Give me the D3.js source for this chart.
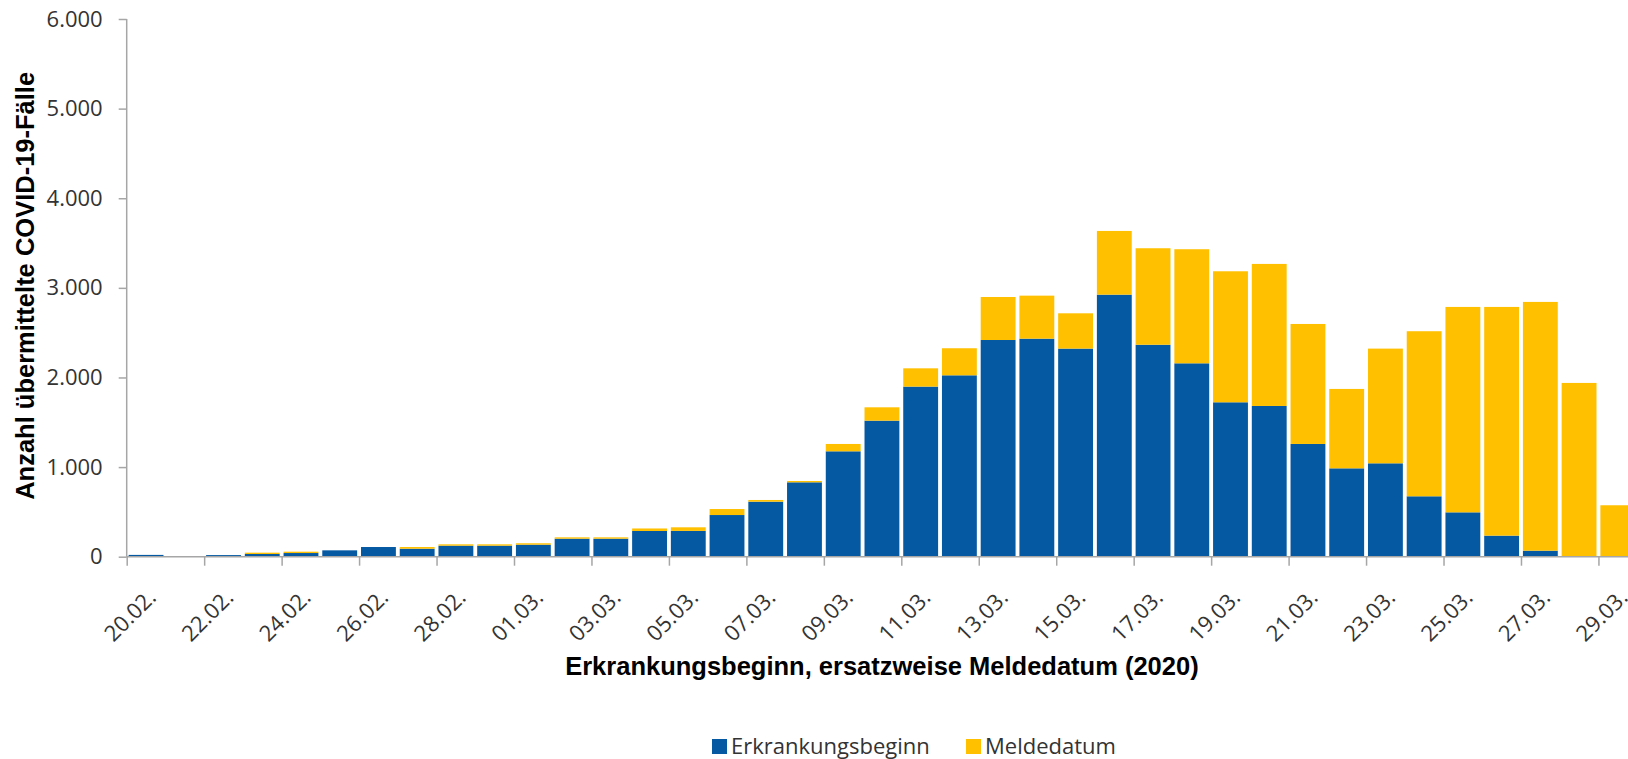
<!DOCTYPE html>
<html>
<head>
<meta charset="utf-8">
<script src="https://cdn.jsdelivr.net/npm/d3@7"></script>
<style>
  body { margin: 0; background: #fff; }
  svg { display: block; }
</style>
</head>
<body>
<div id="chart"></div>
<script>
// Meldedatum / Erkrankungsbeginn, 20.02. bis 29.03.2020
const dates = ["20.02.", "21.02.", "22.02.", "23.02.", "24.02.", "25.02.", "26.02.", "27.02.", "28.02.", "29.02.",
  "01.03.", "02.03.", "03.03.", "04.03.", "05.03.", "06.03.", "07.03.", "08.03.", "09.03.", "10.03.",
  "11.03.", "12.03.", "13.03.", "14.03.", "15.03.", "16.03.", "17.03.", "18.03.", "19.03.", "20.03.",
  "21.03.", "22.03.", "23.03.", "24.03.", "25.03.", "26.03.", "27.03.", "28.03.", "29.03."];
const erkrankungsbeginn = [20, 0, 18, 30, 41, 71, 108, 89, 123, 123,
  134, 201, 201, 287, 288, 465, 614, 830, 1176, 1518,
  1898, 2024, 2418, 2433, 2322, 2924, 2365, 2158, 1723, 1682,
  1258, 986, 1042, 674, 495, 235, 67, 0, 0];
const meldedatum = [0, 0, 0, 15, 15, 0, 0, 19, 15, 15,
  16, 15, 15, 28, 40, 67, 19, 15, 82, 149,
  204, 302, 480, 480, 394, 711, 1077, 1273, 1462, 1585,
  1339, 886, 1280, 1842, 2292, 2552, 2776, 1939, 574];
const seriesNames = ["Erkrankungsbeginn", "Meldedatum"];
const yTicks = [0, 1000, 2000, 3000, 4000, 5000, 6000];

const W = 1628, H = 759;
const margin = {top: 19, left: 126.7};
const step = 38.73;
const plotW = step * dates.length, plotH = 537.7;
const colors = {Erkrankungsbeginn: "#0559a2", Meldedatum: "#ffc000"};

const de = d3.formatLocale({decimal: ",", thousands: ".", grouping: [3], currency: ["", " €"]});
const fmt = de.format(",");

const rows = dates.map((d, i) => ({date: d, Erkrankungsbeginn: erkrankungsbeginn[i], Meldedatum: meldedatum[i]}));
const stacked = d3.stack().keys(seriesNames)(rows);

const x = d3.scaleBand().domain(dates).range([0, plotW]).paddingInner(0.1).paddingOuter(0.05);
const y = d3.scaleLinear().domain([0, 6000]).range([plotH, 0]);

const svg = d3.select("#chart").append("svg").attr("width", W).attr("height", H);
const g = svg.append("g").attr("transform", `translate(${margin.left},${margin.top})`);

// Balken
g.append("g").selectAll("g")
  .data(stacked)
  .join("g")
    .attr("fill", d => colors[d.key])
  .selectAll("rect")
  .data(d => d)
  .join("rect")
    .attr("x", d => x(d.data.date))
    .attr("y", d => y(d[1]))
    .attr("width", x.bandwidth())
    .attr("height", d => Math.max(0, y(d[0]) - y(d[1])));

// y-Achse
const yAxis = g.append("g")
  .call(d3.axisLeft(y).tickValues(yTicks).tickFormat(fmt).tickSize(8).tickPadding(16));
yAxis.select(".domain").attr("stroke", "#a6a6a6").attr("stroke-width", 1.5).attr("d", `M0,${plotH}V0`);
yAxis.selectAll(".tick line").attr("stroke", "#a6a6a6").attr("stroke-width", 1.5);
yAxis.selectAll(".tick text").attr("font-family", "Open Sans").attr("font-size", 22).attr("fill", "#333");

// x-Achse
const xg = g.append("g").attr("transform", `translate(0,${plotH})`);
xg.append("line").attr("x1", 0).attr("x2", plotW).attr("stroke", "#a6a6a6").attr("stroke-width", 1.5);
const every2 = dates.filter((d, i) => i % 2 === 0);
xg.selectAll(".tk").data(every2).join("line")
  .attr("class", "tk")
  .attr("x1", d => x(d) - x.step() * x.paddingInner() / 2 + 0.5)
  .attr("x2", d => x(d) - x.step() * x.paddingInner() / 2 + 0.5)
  .attr("y1", 0).attr("y2", 9)
  .attr("stroke", "#a6a6a6").attr("stroke-width", 1.5);
xg.selectAll(".lbl").data(every2).join("text")
  .attr("class", "lbl")
  .attr("transform", d => `translate(${x(d) + x.bandwidth() / 2},31) rotate(-45)`)
  .attr("text-anchor", "end")
  .attr("dy", "0.72em")
  .attr("font-family", "Open Sans").attr("font-size", 22).attr("fill", "#333")
  .text(d => d);

// Achsentitel
svg.append("text")
  .attr("transform", `translate(34,${margin.top + plotH / 2 - 2}) rotate(-90)`)
  .attr("text-anchor", "middle")
  .attr("font-family", "Liberation Sans").attr("font-weight", "bold").attr("font-size", 25.5)
  .text("Anzahl übermittelte COVID-19-Fälle");
svg.append("text")
  .attr("x", margin.left + plotW / 2).attr("y", 675)
  .attr("text-anchor", "middle")
  .attr("font-family", "Liberation Sans").attr("font-weight", "bold").attr("font-size", 25.5)
  .text("Erkrankungsbeginn, ersatzweise Meldedatum (2020)");

// Legende
const legendX = [712, 966];
const leg = svg.append("g").selectAll("g").data(seriesNames).join("g")
  .attr("transform", (d, i) => `translate(${legendX[i]},739)`);
leg.append("rect").attr("width", 15).attr("height", 15).attr("fill", d => colors[d]);
leg.append("text").attr("x", 19).attr("y", 15)
  .attr("font-family", "Open Sans").attr("font-size", 22).attr("fill", "#333")
  .text(d => d);
</script>
</body>
</html>
